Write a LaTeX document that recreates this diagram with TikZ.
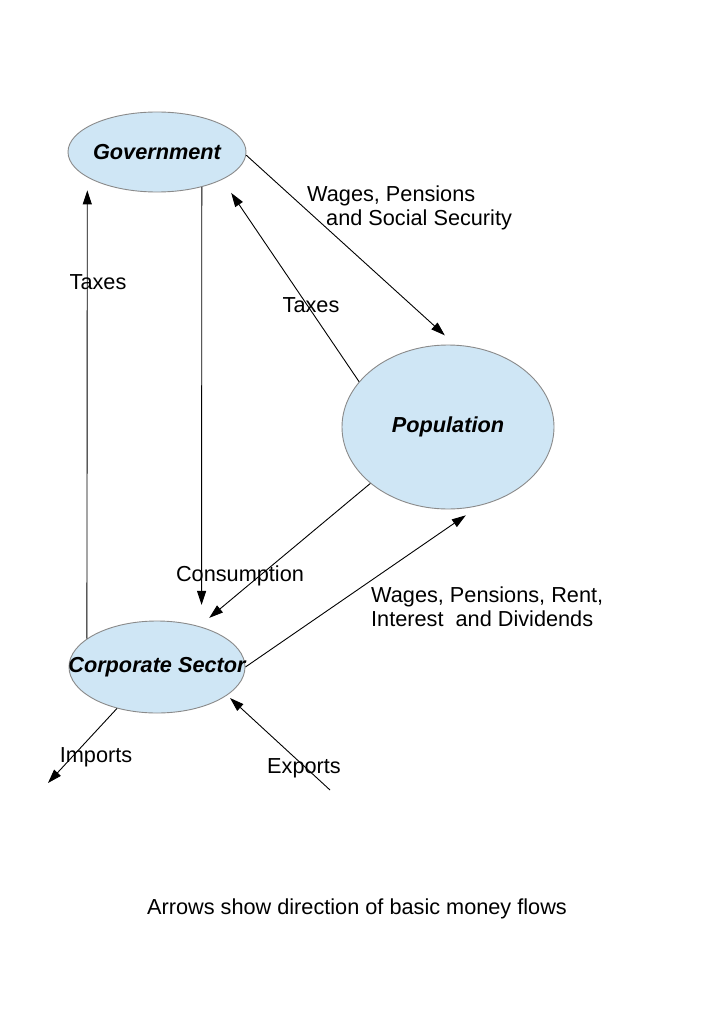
\documentclass[tikz,border=0pt]{standalone}
\usepackage{fontspec}
\setmainfont{Liberation Sans}
\definecolor{paleblue}{HTML}{CFE6F5}
\definecolor{rimgrey}{HTML}{8A8A8A}
\usetikzlibrary{arrows.meta,positioning,shapes.geometric}

\begin{document}
\begin{tikzpicture}[x=1pt, y=-1pt,
  sector/.style={ellipse, draw=rimgrey, fill=paleblue, line width=0.9pt,
    font=\fontsize{21.7}{26}\selectfont\bfseries\itshape, inner sep=0pt},
  lbl/.style={font=\fontsize{21.7}{24}\selectfont, inner sep=0pt},
  arr/.style={-{Triangle[length=14pt,width=9pt]}, black, line width=0.9pt}
]
  \useasboundingbox[fill=white] (0,0) rectangle (724,1024);

  \node[sector, minimum width=178pt, minimum height=80pt] (gov) at (157,152) {\makebox[0pt]{Government}};
  \node[sector, minimum width=212pt, minimum height=164pt] (pop) at (448,427) {\makebox[0pt]{Population}};
  \node[sector, minimum width=176pt, minimum height=92pt] (corp) at (157,667) {\makebox[0pt]{Corporate Sector}};

  \coordinate (imp) at (48,783);
  \coordinate (exp) at (330,790);

  \draw[arr, shorten >=14pt] (gov.-2) -- (pop.85);
  \draw[arr, shorten >=16pt] (pop.153.7) -- (gov.-23.4);
  \draw[arr, shorten >=22pt] (gov.-38.3) -- (corp.42.3);
  \draw[arr, shorten >=13pt] (corp.158.3) -- (gov.-160.6);
  \draw[arr, shorten >=13pt] (pop.-144.1) -- (corp.44.8);
  \draw[arr, shorten >=17pt] (corp.0) -- (pop.-68.4);
  \draw[arr] (corp.-134.4) -- (imp);
  \draw[arr, shorten >=4pt] (exp) -- (corp.-22);

  \node[lbl, anchor=west, align=left] (wps) at (307,208) {Wages, Pensions\\\hspace{19pt}and Social Security};
  \node[lbl] (taxpop) at (311,305) {Taxes};
  \node[lbl] (taxcorp) at (98,282) {Taxes};
  \node[lbl] (cons) at (240,576) {Consumption};
  \node[lbl, anchor=west, align=left] (wpr) at (371,607) {Wages, Pensions, Rent,\\Interest~ and Dividends};
  \node[lbl] (imports) at (96,757) {Imports};
  \node[lbl] (exports) at (304,768) {Exports};
  \node[lbl] (note) at (357,909) {Arrows show direction of basic money flows};
\end{tikzpicture}
\end{document}
